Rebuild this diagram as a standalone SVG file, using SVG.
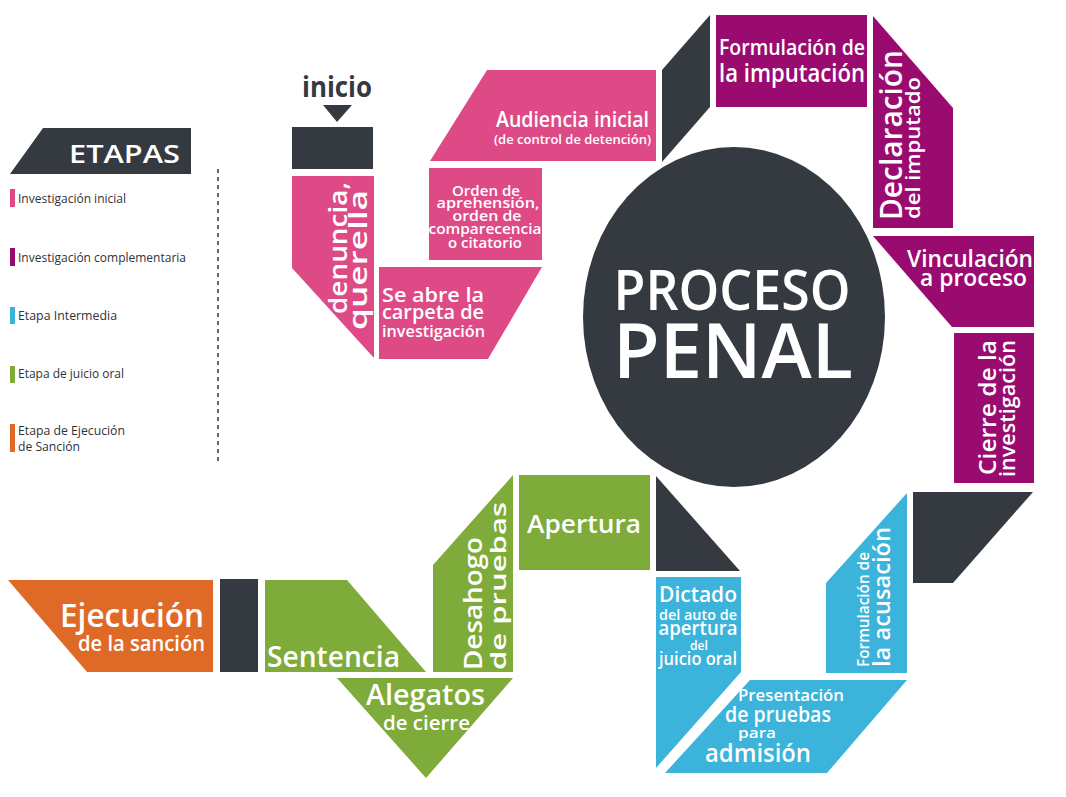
<svg xmlns="http://www.w3.org/2000/svg" width="1066" height="797" viewBox="0 0 1066 797">
<style>
.pk{fill:#DE4A86}.pu{fill:#9A0B70}.bl{fill:#3CB3DB}.gr{fill:#7EAB3A}.or{fill:#DF6A27}.dk{fill:#353A41}
text{font-family:"Open Sans","Liberation Sans",sans-serif}
.w{fill:#FFFFFF;font-weight:600}
.lg{fill:#2F3338;font-size:12.5px;font-weight:400}
</style>
<rect width="1066" height="797" fill="#FFFFFF"/>

<g id="legend">
<polygon class="dk" points="43,128 191,128 191,174 10,174"/>
<text class="w" x="69" y="163" font-size="25" font-weight="700" textLength="111" lengthAdjust="spacingAndGlyphs">ETAPAS</text>
<rect class="pk" x="10" y="189" width="5" height="18"/>
<text class="lg" x="18" y="203" textLength="108" lengthAdjust="spacingAndGlyphs">Investigación inicial</text>
<rect class="pu" x="10" y="248" width="5" height="18"/>
<text class="lg" x="18" y="262" textLength="168" lengthAdjust="spacingAndGlyphs">Investigación complementaria</text>
<rect class="bl" x="10" y="307" width="5" height="17"/>
<text class="lg" x="18" y="320" textLength="99" lengthAdjust="spacingAndGlyphs">Etapa Intermedia</text>
<rect class="gr" x="10" y="366" width="5" height="17"/>
<text class="lg" x="18" y="378" textLength="106" lengthAdjust="spacingAndGlyphs">Etapa de juicio oral</text>
<rect class="or" x="10" y="424" width="5" height="28"/>
<text class="lg" x="18" y="435" textLength="107" lengthAdjust="spacingAndGlyphs">Etapa de Ejecución</text>
<text class="lg" x="18" y="451" textLength="62" lengthAdjust="spacingAndGlyphs">de Sanción</text>
<line x1="218" y1="169" x2="218" y2="462" stroke="#353A41" stroke-width="1.5" stroke-dasharray="4 4"/>
</g>

<g id="connectors">
<polygon class="dk" points="323,105 352,105 337,122"/>
<rect class="dk" x="292" y="127" width="81" height="42"/>
<polygon class="dk" points="662,70 710,15 710,107 662,162"/>
<polygon class="dk" points="913,492 1033,492 953,583 913,583"/>
<polygon class="dk" points="656,476 656,571 740,571"/>
<rect class="dk" x="220" y="579" width="38" height="93"/>
</g>

<g id="inicio">
<text x="302" y="97" font-size="28" font-weight="700" fill="#353A41" textLength="70" lengthAdjust="spacingAndGlyphs">inicio</text>
</g>

<g id="denuncia">
<polygon class="pk" points="292,176 374,176 374,358 292,268"/>
<text class="w" font-size="25" transform="translate(347,314) rotate(-90)" textLength="132" lengthAdjust="spacingAndGlyphs">denuncia,</text>
<text class="w" font-size="25" transform="translate(367,330) rotate(-90)" textLength="140" lengthAdjust="spacingAndGlyphs">querella</text>
</g>

<g id="carpeta">
<polygon class="pk" points="379,267 542,267 488,359 379,359"/>
<text class="w" x="382" y="302" font-size="20" textLength="102" lengthAdjust="spacingAndGlyphs">Se abre la</text>
<text class="w" x="382" y="319" font-size="19" textLength="102" lengthAdjust="spacingAndGlyphs">carpeta de</text>
<text class="w" x="382" y="337" font-size="17" textLength="103" lengthAdjust="spacingAndGlyphs">investigación</text>
</g>

<g id="orden">
<rect class="pk" x="429" y="168" width="113" height="92"/>
<g text-anchor="middle" font-size="14">
<text class="w" x="486" y="196" textLength="68" lengthAdjust="spacingAndGlyphs">Orden de</text>
<text class="w" x="488" y="208" textLength="103" lengthAdjust="spacingAndGlyphs">aprehensión,</text>
<text class="w" x="487" y="221" textLength="69" lengthAdjust="spacingAndGlyphs">orden de</text>
<text class="w" x="485" y="234" textLength="113" lengthAdjust="spacingAndGlyphs">comparecencia</text>
<text class="w" x="485" y="248" textLength="74" lengthAdjust="spacingAndGlyphs">o citatorio</text>
</g>
</g>

<g id="audiencia">
<polygon class="pk" points="487,70 656,70 656,161 430,161"/>
<text class="w" x="649" y="127" font-size="22" text-anchor="end" textLength="153" lengthAdjust="spacingAndGlyphs">Audiencia inicial</text>
<text class="w" x="651" y="144" font-size="13" text-anchor="end" textLength="157" lengthAdjust="spacingAndGlyphs">(de control de detención)</text>
</g>

<g id="formulacion-imputacion">
<rect class="pu" x="716" y="15" width="151" height="92"/>
<text class="w" x="719" y="55" font-size="21" textLength="146" lengthAdjust="spacingAndGlyphs">Formulación de</text>
<text class="w" x="719" y="82" font-size="25" textLength="146" lengthAdjust="spacingAndGlyphs">la imputación</text>
</g>

<g id="declaracion">
<polygon class="pu" points="873,16 953,108 953,228 873,228"/>
<text class="w" font-size="31" font-weight="700" transform="translate(902,220) rotate(-90)" textLength="170" lengthAdjust="spacingAndGlyphs">Declaración</text>
<text class="w" font-size="19" transform="translate(920,219) rotate(-90)" textLength="142" lengthAdjust="spacingAndGlyphs">del imputado</text>
</g>

<g id="vinculacion">
<polygon class="pu" points="873,236 1034,236 1034,327 952,327"/>
<text class="w" x="907" y="267" font-size="24" textLength="126" lengthAdjust="spacingAndGlyphs">Vinculación</text>
<text class="w" x="920" y="286" font-size="23" textLength="107" lengthAdjust="spacingAndGlyphs">a proceso</text>
</g>

<g id="cierre">
<rect class="pu" x="954" y="333" width="80" height="150"/>
<text class="w" font-size="24" transform="translate(996,475) rotate(-90)" textLength="135" lengthAdjust="spacingAndGlyphs">Cierre de la</text>
<text class="w" font-size="21" transform="translate(1015,477) rotate(-90)" textLength="137" lengthAdjust="spacingAndGlyphs">investigación</text>
</g>

<g id="centro">
<ellipse class="dk" cx="734" cy="317" rx="151" ry="170"/>
<text x="732" y="310" font-size="56" fill="#FFFFFF" font-weight="600" text-anchor="middle" textLength="237" lengthAdjust="spacingAndGlyphs">PROCESO</text>
<text x="733" y="378" font-size="76" fill="#FFFFFF" font-weight="600" text-anchor="middle" textLength="240" lengthAdjust="spacingAndGlyphs">PENAL</text>
</g>

<g id="formulacion-acusacion">
<polygon class="bl" points="826,583 907,493 907,673 826,673"/>
<text class="w" font-size="16" transform="translate(869,667) rotate(-90)" textLength="115" lengthAdjust="spacingAndGlyphs">Formulación de</text>
<text class="w" font-size="23" transform="translate(890,667) rotate(-90)" textLength="140" lengthAdjust="spacingAndGlyphs">la acusación</text>
</g>

<g id="presentacion">
<polygon class="bl" points="750,680 907,680 827,773 665,773"/>
<text class="w" x="738" y="701" font-size="17" textLength="106" lengthAdjust="spacingAndGlyphs">Presentación</text>
<text class="w" x="725" y="722" font-size="21" textLength="106" lengthAdjust="spacingAndGlyphs">de pruebas</text>
<text class="w" x="738" y="738" font-size="15" textLength="38" lengthAdjust="spacingAndGlyphs">para</text>
<text class="w" x="705" y="762" font-size="26" textLength="106" lengthAdjust="spacingAndGlyphs">admisión</text>
</g>

<g id="dictado">
<polygon class="bl" points="656,577 741,577 741,672 656,768"/>
<g text-anchor="middle">
<text class="w" x="698" y="602" font-size="21" textLength="78" lengthAdjust="spacingAndGlyphs">Dictado</text>
<text class="w" x="698" y="620" font-size="15" textLength="78" lengthAdjust="spacingAndGlyphs">del auto de</text>
<text class="w" x="698" y="635" font-size="19" textLength="79" lengthAdjust="spacingAndGlyphs">apertura</text>
<text class="w" x="699" y="650" font-size="12" textLength="18" lengthAdjust="spacingAndGlyphs">del</text>
<text class="w" x="698" y="665" font-size="18" textLength="78" lengthAdjust="spacingAndGlyphs">juicio oral</text>
</g>
</g>

<g id="apertura">
<rect class="gr" x="519" y="475" width="131" height="95"/>
<text class="w" x="527" y="533" font-size="25" textLength="114" lengthAdjust="spacingAndGlyphs">Apertura</text>
</g>

<g id="desahogo">
<polygon class="gr" points="433,565 513,475 513,672 433,672"/>
<text class="w" font-size="25" transform="translate(482,670) rotate(-90)" textLength="133" lengthAdjust="spacingAndGlyphs">Desahogo</text>
<text class="w" font-size="22" transform="translate(506,670) rotate(-90)" textLength="168" lengthAdjust="spacingAndGlyphs">de pruebas</text>
</g>

<g id="alegatos">
<polygon class="gr" points="337,678 513,678 426,778"/>
<text class="w" x="366" y="705" font-size="28" textLength="119" lengthAdjust="spacingAndGlyphs">Alegatos</text>
<text class="w" x="383" y="730" font-size="20" textLength="87" lengthAdjust="spacingAndGlyphs">de cierre</text>
</g>

<g id="sentencia">
<polygon class="gr" points="265,580 347,580 426,672 265,672"/>
<text class="w" x="267" y="667" font-size="28" textLength="133" lengthAdjust="spacingAndGlyphs">Sentencia</text>
</g>

<g id="ejecucion">
<polygon class="or" points="8,580 213,580 213,672 87,672"/>
<text class="w" x="60" y="627" font-size="33" textLength="144" lengthAdjust="spacingAndGlyphs">Ejecución</text>
<text class="w" x="78" y="651" font-size="21" textLength="127" lengthAdjust="spacingAndGlyphs">de la sanción</text>
</g>
</svg>
